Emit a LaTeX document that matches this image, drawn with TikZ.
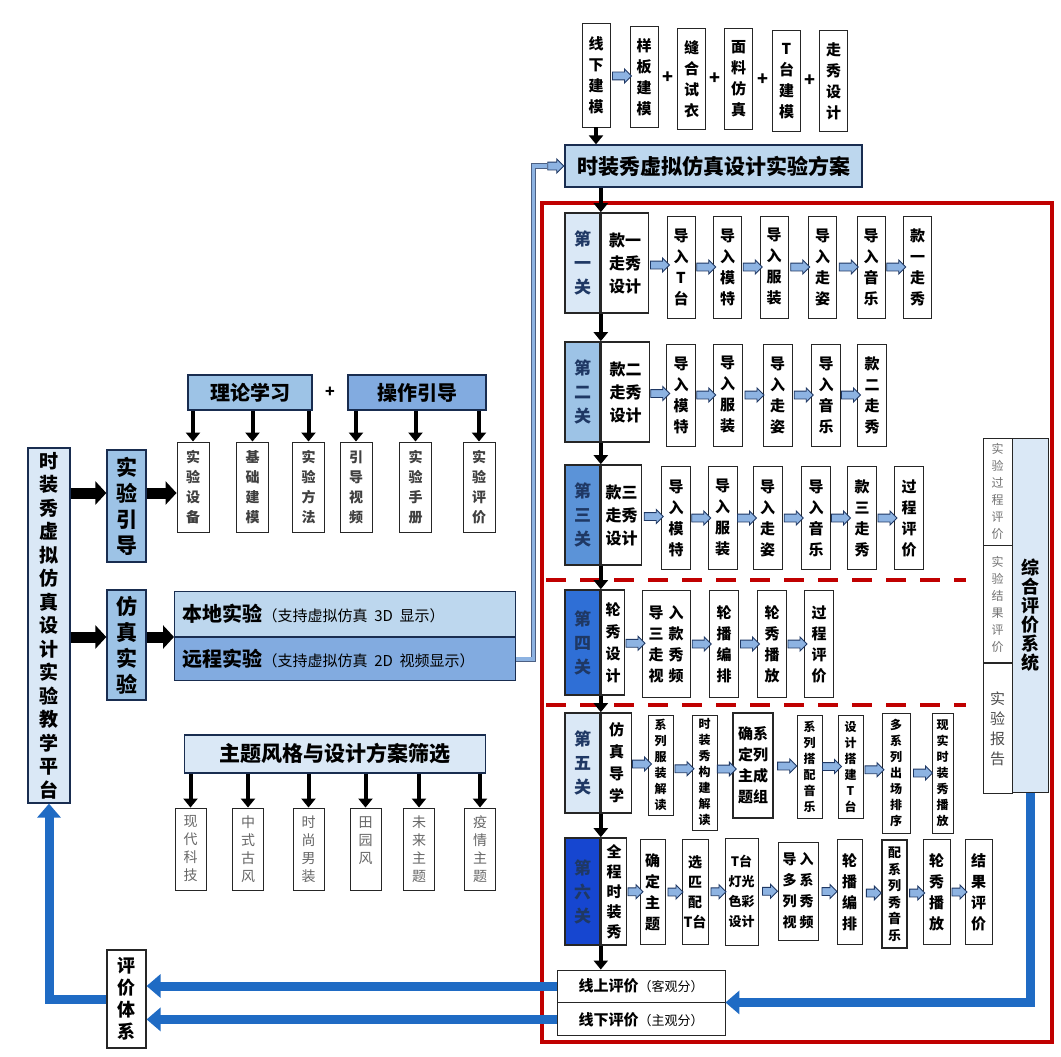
\documentclass[tikz,border=0pt]{standalone}
\usepackage{fontspec}
\setmainfont{Noto Sans CJK SC}
\usetikzlibrary{arrows.meta, positioning, calc, shapes.arrows}

\definecolor{navy}{HTML}{1F3864}
\definecolor{ink}{HTML}{262626}
\definecolor{pale}{HTML}{DAE8F6}
\definecolor{lblue}{HTML}{BDD7EE}
\definecolor{mblue}{HTML}{9DC3E6}
\definecolor{sblue}{HTML}{82ABE0}
\definecolor{tblue}{HTML}{5B93D8}
\definecolor{dblue}{HTML}{2F6FD6}
\definecolor{deepblue}{HTML}{1646D0}
\definecolor{flowblue}{HTML}{1F6BC4}
\definecolor{hollow}{HTML}{8DB3E2}
\definecolor{frame}{HTML}{C00000}

\newcommand\fs[2]{\fontsize{#1}{#2}\selectfont}
% one character per line
\newcommand\stk[1]{\expandafter\stkA#1\stkend}
\def\stkA#1#2\stkend{#1\if\relax\detokenize{#2}\relax\else\\\stkA#2\stkend\fi}

\tikzset{
  stepbox/.style={draw=ink, line width=0.9pt, fill=white, align=center, inner sep=0pt,
    font=\fs{15}{21}\bfseries},
  gatebox/.style={draw=ink, line width=1.6pt, align=center, inner sep=0pt, text=navy,
    font=\fs{17}{24}\bfseries},
  headbox/.style={draw=navy!80!black, line width=1.3pt, align=center, inner sep=0pt,
    font=\fs{20}{24}\bfseries},
  sidebox/.style={draw=ink, line width=0.9pt, fill=white, align=center, inner sep=0pt,
    text=black!75, font=\fs{14}{20}\bfseries},
  themebox/.style={draw=ink, line width=0.9pt, fill=white, align=center, inner sep=0pt,
    text=black!60, font=\fs{14}{18}},
  hollowarrow/.style={single arrow, draw=navy, fill=hollow, line width=0.9pt,
    minimum height=19pt, inner xsep=0pt, inner ysep=3.5pt, single arrow head extend=3pt},
  darrow/.style={black, line width=4pt, -{Triangle[length=9pt, width=14pt]}},
  fatarrow/.style={black, line width=11pt, -{Triangle[length=11pt, width=23pt]}},
  bline/.style={flowblue, line width=9pt, -{Triangle[length=14pt, width=23pt]}},
}

\begin{document}
\begin{tikzpicture}[x=1pt, y=-1pt]
\useasboundingbox (0,0) rectangle (1061,1057);
\fill[white] (0,0) rectangle (1061,1057);

% ---------- offline modelling row ----------
\node[stepbox, minimum width=28, minimum height=104] (offmodel) at (596,75) {\stk{线下建模}};
\foreach \n/\cx/\cy/\t in {tp/644/77/样板建模, ft/691.5/79/缝合试衣, fb/738.5/79/面料仿真,
    tt/786.5/81/T台建模, wd/833.5/81/走秀设计}
  \node[stepbox, minimum width=28, minimum height=101] (\n) at (\cx,\cy) {\stk{\t}};
\node[hollowarrow] (hoff) at ($(offmodel.east)!0.5!(tp.west)$) {};
\foreach \a/\b in {tp/ft, ft/fb, fb/tt, tt/wd}
  \node[font=\fs{18}{18}\bfseries] (plus\a) at ($(\a.east)!0.5!(\b.west)$) {+};

% plan
\node[headbox, fill=lblue, minimum width=297, minimum height=42, font=\fs{21}{24}\bfseries]
  (plan) at (713.5,166) {时装秀虚拟仿真设计实验方案};
\draw[darrow] (offmodel.south) -- (offmodel.south |- plan.north);

% ---------- red frame ----------
\draw[frame, line width=4.5pt] (542,203) rectangle (1052,1042);
\draw[frame, line width=4pt, dash pattern=on 20pt off 14pt] (546,580) -- (966,580);
\draw[frame, line width=4pt, dash pattern=on 20pt off 14pt] (546,705) -- (966,705);

% ---------- stage 1 ----------
\node[gatebox, fill=pale, minimum width=35, minimum height=100] (g1) at (582.5,263) {\stk{第一关}};
\node[gatebox, fill=white, text=black, font=\fs{16}{23}\bfseries, minimum width=47,
  minimum height=100, anchor=west] (d1) at (g1.east) {款一\\走秀\\设计};
\foreach \n/\cx/\t in {a/681/导入T台, b/727.5/导入模特, c/774/导入服装, d/822.5/导入走姿,
    e/871/导入音乐, f/917.5/款一走秀}
  \node[stepbox, minimum width=28, minimum height=102] (s1\n) at (\cx,267) {\stk{\t}};
\foreach \a/\b in {d1/s1a, s1a/s1b, s1b/s1c, s1c/s1d, s1d/s1e, s1e/s1f}
  \node[hollowarrow] (h\a) at ($(\a.east)!0.5!(\b.west)$) {};

% ---------- stage 2 ----------
\node[gatebox, fill=mblue, minimum width=35, minimum height=100] (g2) at (582.5,392) {\stk{第二关}};
\node[gatebox, fill=white, text=black, font=\fs{16}{23}\bfseries, minimum width=48,
  minimum height=100, anchor=west] (d2) at (g2.east) {款二\\走秀\\设计};
\foreach \n/\cx/\t in {a/681/导入模特, b/727.5/导入服装, c/777.5/导入走姿, d/826/导入音乐,
    e/872/款二走秀}
  \node[stepbox, minimum width=29, minimum height=102] (s2\n) at (\cx,395) {\stk{\t}};
\foreach \a/\b in {d2/s2a, s2a/s2b, s2b/s2c, s2c/s2d, s2d/s2e}
  \node[hollowarrow] (h\a) at ($(\a.east)!0.5!(\b.west)$) {};

% ---------- stage 3 ----------
\node[gatebox, fill=tblue, minimum width=35, minimum height=100] (g3) at (582.5,515) {\stk{第三关}};
\node[gatebox, fill=white, text=black, font=\fs{16}{23}\bfseries, minimum width=40,
  minimum height=100, anchor=west] (d3) at (g3.east) {款三\\走秀\\设计};
\foreach \n/\cx/\t in {a/676/导入模特, b/722.5/导入服装, c/767.5/导入走姿, d/816/导入音乐,
    e/862/款三走秀, f/909/过程评价}
  \node[stepbox, minimum width=29, minimum height=103] (s3\n) at (\cx,518) {\stk{\t}};
\foreach \a/\b in {d3/s3a, s3a/s3b, s3b/s3c, s3c/s3d, s3d/s3e, s3e/s3f}
  \node[hollowarrow] (h\a) at ($(\a.east)!0.5!(\b.west)$) {};

% ---------- stage 4 ----------
\node[gatebox, fill=dblue, minimum width=35, minimum height=105] (g4) at (582.5,642.5) {\stk{第四关}};
\node[gatebox, fill=white, text=black, font=\fs{15}{22}\bfseries, minimum width=23,
  minimum height=105, anchor=west] (d4) at (g4.east) {\stk{轮秀设计}};
\node[stepbox, minimum width=48, minimum height=107] (s4a) at (666,644)
  {导\hspace{5pt}入\\三\hspace{5pt}款\\走\hspace{5pt}秀\\视\hspace{5pt}频};
\foreach \n/\cx/\t in {b/724/轮播编排, c/772/轮秀播放, d/819/过程评价}
  \node[stepbox, minimum width=29, minimum height=107] (s4\n) at (\cx,644) {\stk{\t}};
\foreach \a/\b in {d4/s4a, s4a/s4b, s4b/s4c, s4c/s4d}
  \node[hollowarrow] (h\a) at ($(\a.east)!0.5!(\b.west)$) {};

% ---------- stage 5 ----------
\node[gatebox, fill=pale, minimum width=35, minimum height=100] (g5) at (582.5,763) {\stk{第五关}};
\node[gatebox, fill=white, text=black, font=\fs{15}{22}\bfseries, minimum width=30,
  minimum height=100, anchor=west] (d5) at (g5.east) {\stk{仿真导学}};
\foreach \n/\cx/\cy/\w/\h/\t in {a/660.5/765/25/100/系列服装解读, b/704.5/772.5/25/115/时装秀构建解读,
    d/809.5/766.5/25/103/系列搭配音乐, e/850.5/766.5/25/103/设计搭建T台,
    f/896/773/28/120/多系列出场排序, g/942.5/773/21/120/现实时装秀播放}
  \node[stepbox, font=\fs{12}{16}\bfseries, minimum width=\w, minimum height=\h] (s5\n) at (\cx,\cy) {\stk{\t}};
\node[stepbox, line width=1.6pt, minimum width=40, minimum height=105] (s5c) at (753,765.5)
  {确系\\定列\\主成\\题组};
\foreach \a/\b in {d5/s5a, s5a/s5b, s5b/s5c, s5c/s5d, s5d/s5e, s5e/s5f, s5f/s5g}
  \node[hollowarrow] (h\a) at ($(\a.east)!0.5!(\b.west)$) {};

% ---------- stage 6 ----------
\node[gatebox, fill=deepblue, minimum width=35, minimum height=107] (g6) at (582.5,891.5) {\stk{第六关}};
\node[gatebox, fill=white, text=black, font=\fs{15}{20}\bfseries, minimum width=25,
  minimum height=107, anchor=west] (d6) at (g6.east) {\stk{全程时装秀}};
\foreach \n/\cx/\w/\t in {a/652.5/25/确定主题, e/849.5/25/轮播编排, g/936.5/27/轮秀播放, h/978.5/27/结果评价}
  \node[stepbox, minimum width=\w, minimum height=105] (s6\n) at (\cx,892) {\stk{\t}};
\node[stepbox, font=\fs{14}{20}\bfseries, minimum width=26, minimum height=105] (s6b) at (695,892)
  {选\\匹\\配\\T台};
\node[stepbox, font=\fs{13}{20}\bfseries, minimum width=33, minimum height=107] (s6c) at (741.5,891.5)
  {T台\\灯光\\色彩\\设计};
\node[stepbox, font=\fs{14}{21}\bfseries, minimum width=40, minimum height=98] (s6d) at (798,891)
  {导\hspace{3pt}入\\多\hspace{3pt}系\\列\hspace{3pt}秀\\视\hspace{3pt}频};
\node[stepbox, line width=1.6pt, font=\fs{13}{16.5}\bfseries, minimum width=25, minimum height=108]
  (s6f) at (894.5,894) {\stk{配系列秀音乐}};
\foreach \a/\b in {d6/s6a, s6a/s6b, s6b/s6c, s6c/s6d, s6d/s6e, s6e/s6f, s6f/s6g, s6g/s6h}
  \node[hollowarrow, minimum height=15pt] (h\a) at ($(\a.east)!0.5!(\b.west)$) {};

% ---------- evaluations inside frame ----------
\node[stepbox, minimum width=168, minimum height=32, font=\fs{15}{18}\bfseries] (oneval) at (641,986)
  {线上评价{\mdseries\fs{13}{18}（客观分）}};
\node[stepbox, minimum width=168, minimum height=33, font=\fs{15}{18}\bfseries, anchor=north]
  (offeval) at (oneval.south) {线下评价{\mdseries\fs{13}{18}（主观分）}};

% stage chain
\draw[darrow] (g1.east |- plan.south) -- (g1.north east);
\draw[darrow] (g1.south east) -- (g2.north east);
\draw[darrow] (g2.south east) -- (g3.north east);
\draw[darrow] (g3.south east) -- (g4.north east);
\draw[darrow] (g4.south east) -- (g5.north east);
\draw[darrow] (g5.south east) -- (g6.north east);
\draw[darrow] (g6.south east) -- (g6.south east |- oneval.north);

% overall evaluation column
\node[sidebox, text=black!55, font=\fs{12}{17}, minimum width=29, minimum height=107] (procev) at (997.5,491.5)
  {\stk{实验过程评价}};
\node[sidebox, text=black!55, font=\fs{12}{17}, minimum width=29, minimum height=117, anchor=north]
  (resev) at (procev.south) {\stk{实验结果评价}};
\node[sidebox, text=black!70, font=\fs{15}{20}, minimum width=29, minimum height=130, anchor=north]
  (report) at (resev.south) {\stk{实验报告}};
\node[headbox, draw=ink, line width=1pt, fill=pale, minimum width=36, minimum height=354,
  anchor=north west, font=\fs{18}{19}\bfseries] (evalsys) at (procev.north east) {\stk{综合评价系统}};
\draw[bline] (evalsys.south) |- (oneval.south east);

% ---------- left side ----------
\node[headbox, fill=pale, minimum width=42, minimum height=355, font=\fs{19}{23.5}\bfseries]
  (plat) at (49,625.5) {\stk{时装秀虚拟仿真设计实验教学平台}};
\node[headbox, fill=mblue, minimum width=39, minimum height=112, font=\fs{21}{26}\bfseries]
  (guide) at (126.5,506) {\stk{实验引导}};
\node[headbox, fill=mblue, minimum width=39, minimum height=110, font=\fs{21}{26}\bfseries]
  (simexp) at (126.5,645) {\stk{仿真实验}};

\node[headbox, fill=mblue, minimum width=124, minimum height=35] (theory) at (250,392.5) {理论学习};
\node[headbox, fill=sblue, minimum width=138, minimum height=35] (operate) at (417,392.5) {操作引导};
\node[font=\fs{16}{16}\bfseries] (plusto) at ($(theory.east)!0.5!(operate.west)$) {+};
\foreach \n/\cx/\t in {equip/193/实验设备, basic/252.5/基础建模, method/308.5/实验方法,
    video/356/引导视频, manual/415.5/实验手册, assess/479/实验评价}
  \node[sidebox, minimum width=32, minimum height=90] (\n) at (\cx,487) {\stk{\t}};
\foreach \n in {equip,basic,method}
  \draw[darrow] (\n.north |- theory.south) -- (\n.north);
\foreach \n in {video,manual,assess}
  \draw[darrow] (\n.north |- operate.south) -- (\n.north);

\node[headbox, fill=lblue, anchor=south west, align=left, text width=325, inner xsep=8pt,
  minimum height=45] (local) at (174,637) {本地实验{\mdseries\fs{15}{18}（支持虚拟仿真 3D 显示）}};
\node[headbox, fill=sblue, anchor=north west, align=left, text width=325, inner xsep=8pt,
  minimum height=43] (remote) at (local.south west) {远程实验{\mdseries\fs{15}{18}（支持虚拟仿真 2D 视频显示）}};

\coordinate (lane1) at (0,493);
\coordinate (lane2) at (0,637);
\draw[fatarrow] (plat.east |- lane1) -- (guide.west |- lane1);
\draw[fatarrow] (guide.east |- lane1) -- (equip.west |- lane1);
\draw[fatarrow] (plat.east |- lane2) -- (simexp.west |- lane2);
\draw[fatarrow] (simexp.east |- lane2) -- (local.south west);

% remote link up to the plan
\node[hollowarrow, anchor=tip, minimum height=16pt] (hplan) at (plan.west) {};
\draw[draw=navy!80, double=hollow, line width=0.8pt, double distance=3.5pt]
  (remote.east) -| ($(hplan.tail)+(-14,0)$) -- (hplan.tail);

% theme selection
\node[headbox, fill=pale, minimum width=301.5, minimum height=38, font=\fs{21}{24}\bfseries]
  (theme) at (335,754) {主题风格与设计方案筛选};
\foreach \n/\cx/\t in {modern/190.5/现代科技, chinese/248/中式古风, fashion/308.5/时尚男装,
    rural/365.5/田园风　, future/419/未来主题, epidemic/480/疫情主题}
  \node[themebox, minimum width=31, minimum height=82] (\n) at (\cx,849) {\stk{\t}};
\foreach \n in {modern,chinese,fashion,rural,future,epidemic}
  \draw[darrow] (\n.north |- theme.south) -- (\n.north);

% evaluation system and feedback
\node[stepbox, line width=1.2pt, minimum width=39, minimum height=98, font=\fs{18}{22}\bfseries]
  (evsys) at (126.5,999) {\stk{评价体系}};
\draw[bline] (oneval.west) -- (oneval.west -| evsys.east);
\draw[bline] (offeval.west) -- (offeval.west -| evsys.east);
\draw[bline] (evsys.west) -| (plat.south);

\end{tikzpicture}
\end{document}
